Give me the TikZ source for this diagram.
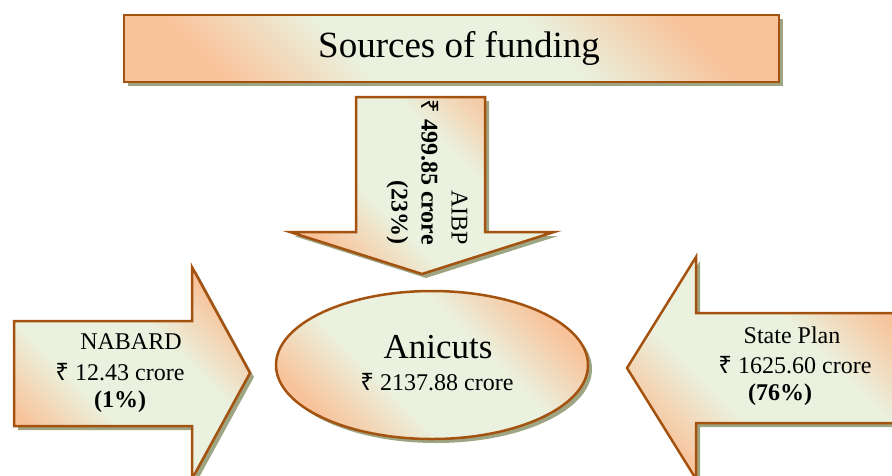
\documentclass[tikz,border=0pt]{standalone}
\usepackage{fontspec}
\setmainfont{Liberation Serif}
\newfontfamily\rupeefont{Noto Sans}
\usetikzlibrary{shapes.geometric,shadows}
\definecolor{peach}{HTML}{F8C39B}
\definecolor{mint}{HTML}{EAF2DF}
\definecolor{rim}{HTML}{A4520F}
\definecolor{moss}{HTML}{9DA583}
\pgfdeclarehorizontalshading{sheen}{100bp}{color(0bp)=(peach); color(25bp)=(peach); color(40bp)=(mint); color(60bp)=(mint); color(75bp)=(peach); color(100bp)=(peach)}
\newcommand{\rupee}{{\rupeefont ₹}}
\tikzset{
	pane/.style={
			draw=rim, line width=2.5pt, line join=miter,
			shading=sheen, shading angle=45,
			drop shadow={shadow xshift=4pt, shadow yshift=-4pt, fill=moss, opacity=1}
		},
	figtext/.style={inner sep=0pt, font=\fontsize{24}{30}\selectfont}
}

\begin{document}
\begin{tikzpicture}[x=1pt,y=-1pt]
		\useasboundingbox (0,0) rectangle (892,475);
		\clip (0,0) rectangle (892,475);
		% heading
		\draw[pane] (124,15) rectangle (779,82);
		\node[inner sep=0pt, font=\fontsize{37}{40}\selectfont] (title) at (459,48) {Sources of funding};
		% AIBP
		\draw[pane] (356,97) -- (485,97) -- (485,232) -- (554,232) -- (422,274) -- (290,232) -- (356,232) -- cycle;
		\node[figtext, rotate=-90, align=right, anchor=east] (aibp) at (427,245) {AIBP\\ \textbf{\rupee\ 499.85 crore}\\ \textbf{(23\%)}};
		% NABARD
		\draw[pane] (14,321) -- (192,321) -- (192,267) -- (250,373) -- (192,479) -- (192,426) -- (14,426) -- cycle;
		\node[figtext] (nabard) at (131,342) {NABARD};
		\node[figtext] (nabardamt) at (120,372) {\rupee\ 12.43 crore};
		\node[figtext] (nabardpct) at (120,402) {\textbf{(1\%)}};
		% State Plan
		\draw[pane] (900,313) -- (696,313) -- (696,257) -- (627,368) -- (696,479) -- (696,423) -- (900,423) -- cycle;
		\node[figtext] (state) at (792,335) {State Plan};
		\node[figtext] (stateamt) at (795,365) {\rupee\ 1625.60 crore};
		\node[figtext] (statepct) at (780,395) {\textbf{(76\%)}};
		% Anicuts
		\node[pane, ellipse, minimum width=312pt, minimum height=148pt, inner sep=0pt] (anicuts) at (432,365) {};
		\node[inner sep=0pt, font=\fontsize{35}{36}\selectfont] (anicutsname) at (438,347) {Anicuts};
		\node[figtext] (anicutsamt) at (437,382) {\rupee\ 2137.88 crore};
	\end{tikzpicture}
\end{document}
